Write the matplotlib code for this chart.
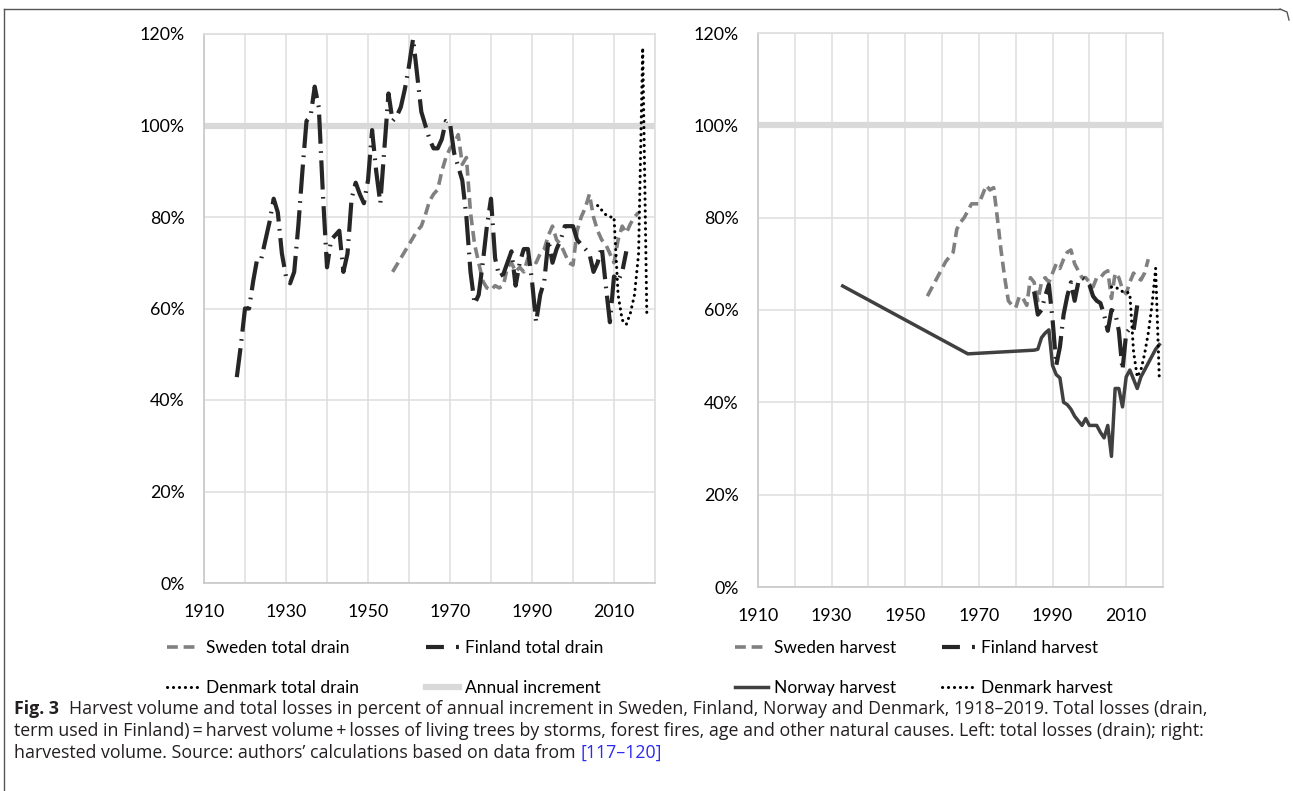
import matplotlib
matplotlib.use("Agg")
import matplotlib.pyplot as plt
from matplotlib.lines import Line2D

# Left panel: total drain in % of annual increment
fin_drain_years = list(range(1918, 2014))
fin_drain = [45, 52, 60, 60, 66, 71, 71, 75, 79, 84,
             81, 72, 67, 65.5, 68, 78, 90, 101, 102, 108.5,
             104, 85, 69, 75, 76, 77, 68, 72, 84, 87.5,
             85, 83, 88, 99, 90, 83, 95, 107, 101, 102,
             104, 108, 113, 119, 111, 103, 100, 97, 95, 95,
             97, 101, 100.5, 94, 91, 88, 80, 68, 61, 63,
             70, 78, 84, 71, 67, 67.5, 70, 72.5, 65, 70,
             73, 73, 66, 57, 63, 66, 75, 70, 73, 75,
             78, 78, 78, 75, 74, 73, 72, 68, 70, 73.5,
             65, 57, 67, 66, 68, 72.5]
swe_drain_years = list(range(1956, 2017))
swe_drain = [68, 69.5, 71, 72.5, 74, 75.5, 77, 78, 80.5, 83.5,
             85, 86, 90, 93, 95, 96, 98, 91.5, 93, 81,
             74, 70, 66, 64.5, 64, 65, 64.5, 65, 69, 70,
             68, 69, 68, 71, 71, 70, 72, 73, 76, 78,
             75, 74, 72, 70, 69.5, 77, 80, 82, 85, 80,
             77, 75, 74, 72, 70, 75, 78, 76.5, 78.5, 80,
             81]
den_drain_years = list(range(2006, 2019))
den_drain = [82.5, 81.5, 80.5, 80, 80, 63, 57.5, 56.5, 59, 63, 72, 117, 59]

# Right panel: harvest in % of annual increment
swe_harv_years = list(range(1956, 2017))
swe_harv = [63, 64.5, 66, 67.5, 69, 70.5, 71.5, 72.5, 77.5, 79,
            80, 81.5, 83, 83, 83, 85, 87, 86, 86.5, 80,
            73, 67, 62, 61, 60.5, 63, 62.5, 61, 67, 66,
            62, 66, 67, 66, 68, 70, 69, 71, 72.5, 73,
            70, 68.5, 67, 67, 66, 65, 67, 67, 68, 68.5,
            62.5, 68, 67, 64.5, 63.5, 66, 68, 67, 66.5, 68,
            71]
fin_harv_years = list(range(1985, 2014))
fin_harv = [64, 59, 60, 63, 65.5, 58, 48, 52, 59, 63,
            66, 62, 66, 67, 66.5, 65.5, 63, 62, 61.5, 59,
            55.5, 60, 59.5, 55.5, 47, 55, 56, 55.5, 61]
nor_harv_years = [1933, 1967] + list(range(1985, 2020))
nor_harv = [65.2, 50.5,
            51.3, 51.5, 54, 55, 55.7, 48, 46, 45.3, 40, 39.5,
            38.5, 37, 36, 35, 36.5, 35, 35, 35, 33.5, 32.3,
            35, 28.3, 43, 43, 39, 45.5, 47, 45, 43, 45.5,
            47, 48.5, 50, 51.5, 52.5]
den_harv_years = list(range(2006, 2020))
den_harv = [65, 65, 64.5, 64, 64, 63.5, 51, 45.5, 47, 50.5, 55, 61, 69, 45]

year_ticks = [1910, 1930, 1950, 1970, 1990, 2010]
year_minor = [1920, 1940, 1960, 1980, 2000, 2020]
pct_ticks = [0, 20, 40, 60, 80, 100, 120]

plt.rcParams['font.family'] = ['Lato', 'DejaVu Sans']

SWE = dict(color='#808080', lw=2.6, linestyle=(0, (3.0, 1.6)))
FIN = dict(color='#262626', lw=3.0, linestyle=(0, (7, 1.8, 0.4, 1.8)))
FIN_KEY = dict(color='#262626', lw=3.0, linestyle=(0, (4.3, 2.9, 0.7, 2.9)))
DEN = dict(color='#000000', lw=2.2, linestyle=(0, (0.05, 1.9)), dash_capstyle='round')
NOR = dict(color='#404040', lw=2.5, linestyle='-')
INC = dict(color='#d9d9d9', lw=4.5, linestyle='-')

fig = plt.figure(figsize=(12.93, 7.91), dpi=100)
W, H = 1293, 791


def px_axes(x0, x1, ytop, ybot):
    return fig.add_axes([x0 / W, 1 - ybot / H, (x1 - x0) / W, (ybot - ytop) / H])


def style(ax):
    ax.set_xlim(1910, 2020)
    ax.set_ylim(0, 120)
    ax.set_xticks(year_ticks)
    ax.set_xticks(year_minor, minor=True)
    ax.set_yticks(pct_ticks)
    ax.set_yticklabels([f"{p}%" for p in pct_ticks])
    ax.grid(True, which='both', color='#dedede', lw=1.1, zorder=0)
    ax.tick_params(which='both', length=0, labelsize=12.8, colors='#000000')
    ax.tick_params(axis='x', pad=15)
    ax.tick_params(axis='y', pad=14)
    for side, sp in ax.spines.items():
        sp.set_color('#c8c8c8' if side in ('left', 'bottom') else '#dedede')
        sp.set_linewidth(1.2)
    ax.set_axisbelow(True)


ax1 = px_axes(204, 655, 34, 583)
style(ax1)
ax1.axhline(100, zorder=1, **INC)
ax1.plot(swe_drain_years, swe_drain, zorder=3, **SWE)
ax1.plot(fin_drain_years, fin_drain, zorder=4, **FIN)
ax1.plot(den_drain_years, den_drain, zorder=5, **DEN)

ax2 = px_axes(758, 1163, 33, 587)
style(ax2)
ax2.axhline(100, zorder=1, **INC)
ax2.plot(swe_harv_years, swe_harv, zorder=3, **SWE)
ax2.plot(nor_harv_years, nor_harv, zorder=3, **NOR)
ax2.plot(fin_harv_years, fin_harv, zorder=4, **FIN)
ax2.plot(den_harv_years, den_harv, zorder=5, **DEN)


def legend_col(x, entries):
    handles = [Line2D([], [], **st) for st, _ in entries]
    labels = [lab for _, lab in entries]
    leg = fig.legend(handles, labels, loc='upper left',
                     bbox_to_anchor=(x / W, 1 - 640 / H), frameon=False,
                     fontsize=12.5, handlelength=1.9, handletextpad=0.35,
                     borderpad=0, borderaxespad=0, labelspacing=1.4)
    return leg


legend_col(167, [(SWE, 'Sweden total drain'), (DEN, 'Denmark total drain')])
legend_col(426, [(FIN_KEY, 'Finland total drain'), (INC, 'Annual increment')])
legend_col(735, [(SWE, 'Sweden harvest'), (NOR, 'Norway harvest')])
legend_col(942, [(FIN_KEY, 'Finland harvest'), (DEN, 'Denmark harvest')])

# frame around the figure panel
fig.add_artist(Line2D([4 / W, 4 / W], [0, 1 - 9 / H], color='#555555', lw=1,
                      transform=fig.transFigure))
fig.add_artist(Line2D([4 / W, 1280 / W], [1 - 9 / H, 1 - 9 / H], color='#555555',
                      lw=1, transform=fig.transFigure))
fig.add_artist(Line2D([1280 / W, 1287 / W, 1289 / W], [1 - 9 / H, 1 - 12 / H, 1 - 20 / H],
                      color='#555555', lw=1, transform=fig.transFigure))

# caption
cap_font = ['Open Sans', 'DejaVu Sans']
cap_size = 12.8
cap_col = '#231f20'
y1, y2, y3 = 1 - 709 / H, 1 - 731 / H, 1 - 753 / H
t_fig = fig.text(14 / W, y1, "Fig. 3", fontsize=cap_size, fontweight='bold',
                 family=cap_font, va='center', color=cap_col)
fig.canvas.draw()
r = fig.canvas.get_renderer()
bb = t_fig.get_window_extent(r)
fig.text((bb.x1 + 10) / W, y1,
         "Harvest volume and total losses in percent of annual increment in Sweden, "
         "Finland, Norway and Denmark, 1918\u20132019. Total losses (drain,",
         fontsize=cap_size, family=cap_font, va='center', color=cap_col)
fig.text(14 / W, y2,
         "term used in Finland)\u2009=\u2009harvest volume\u2009+\u2009losses of living trees by "
         "storms, forest fires, age and other natural causes. Left: total losses (drain); right:",
         fontsize=cap_size, family=cap_font, va='center', color=cap_col)
t3 = fig.text(14 / W, y3,
              "harvested volume. Source: authors\u2019 calculations based on data from ",
              fontsize=cap_size, family=cap_font, va='center', color=cap_col)
fig.canvas.draw()
bb3 = t3.get_window_extent(r)
fig.text(bb3.x1 / W, y3, "[117\u2013120]", fontsize=cap_size, family=cap_font,
         va='center', color='#2a2af0')

fig.savefig("out.png", dpi=100)
